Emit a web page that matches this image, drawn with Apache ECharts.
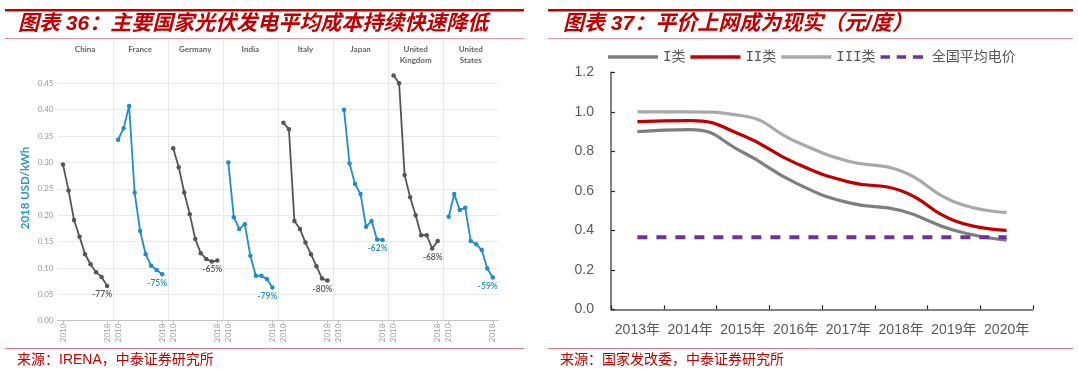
<!DOCTYPE html>
<html>
<head>
<meta charset="utf-8">
<script src="https://cdn.jsdelivr.net/npm/echarts@6/dist/echarts.min.js"></script>
<style>
html,body{margin:0;padding:0;background:#fff;}
#c{width:1078px;height:372px;}
</style>
</head>
<body>
<div id="c"></div>
<script>
// ---------- Left chart data (IRENA LCOE, 2018 USD/kWh) ----------
const countries = ['China', 'France', 'Germany', 'India', 'Italy', 'Japan', 'United\nKingdom', 'United\nStates'];
const years = [2010, 2011, 2012, 2013, 2014, 2015, 2016, 2017, 2018];
const chinaCost   = [0.296, 0.247, 0.191, 0.159, 0.126, 0.107, 0.092, 0.083, 0.066];
const franceCost  = [0.343, 0.365, 0.407, 0.243, 0.170, 0.126, 0.104, 0.096, 0.088];
const germanyCost = [0.327, 0.291, 0.243, 0.202, 0.155, 0.128, 0.117, 0.112, 0.114];
const indiaCost   = [0.300, 0.196, 0.174, 0.183, 0.123, 0.085, 0.085, 0.079, 0.063];
const italyCost   = [0.375, 0.363, 0.189, 0.174, 0.148, 0.126, 0.103, 0.080, 0.076];
const japanCost   = [null, 0.400, 0.298, 0.259, 0.240, 0.178, 0.189, 0.154, 0.153];
const ukCost      = [0.465, 0.450, 0.276, 0.234, 0.200, 0.162, 0.162, 0.137, 0.151];
const usCost      = [0.197, 0.240, 0.210, 0.214, 0.151, 0.145, 0.134, 0.099, 0.082];
const pctChange   = ['-77%', '-75%', '-65%', '-79%', '-80%', '-62%', '-68%', '-59%'];

// ---------- Right chart data (元/度) ----------
const rightYears = ['2013年', '2014年', '2015年', '2016年', '2017年', '2018年', '2019年', '2020年'];
const class1   = [0.90, 0.91, 0.795, 0.64, 0.54, 0.50, 0.40, 0.35];
const class2   = [0.95, 0.955, 0.88, 0.74, 0.645, 0.60, 0.45, 0.40];
const class3   = [1.00, 1.00, 0.98, 0.85, 0.75, 0.70, 0.545, 0.49];
const avgPrice = [0.3644, 0.3644, 0.3644, 0.3644, 0.3644, 0.3644, 0.3644, 0.3644];
const rightNames = ['I类', 'II类', 'III类', '全国平均电价'];

const costSeries = [chinaCost, franceCost, germanyCost, indiaCost, italyCost, japanCost, ukCost, usCost];

// ---------- layout / style ----------
const FL = 57.5, FW = 55.1, FT = 83.3, FH = 237.4;
const GRAY = '#555555', BLUE = '#1f8dc8';
const RED = '#C00000';
const CJK = '"Liberation Sans","Noto Sans CJK SC"';
const pctLabelDrop = [2, 2, 2, 2, 2, 2, 9, 2];

const grids = [], xAxes = [], yAxes = [], series = [];
costSeries.forEach((vals, i) => {
  const col = i % 2 === 0 ? GRAY : BLUE;
  grids.push({left: FL + i * FW, top: FT, width: FW, height: FH, containLabel: false, outerBoundsMode: 'none'});
  xAxes.push({
    gridIndex: i, type: 'value', min: 2009, max: 2019, interval: 1,
    axisLine: {show: true, lineStyle: {color: '#c4c4c4', width: 1}},
    axisTick: {show: true, customValues: [2010, 2018], length: 3, lineStyle: {color: '#c4c4c4'}},
    axisLabel: {show: true, customValues: [2010, 2018], rotate: 90, margin: 3, fontSize: 8,
      color: '#a0a0a0', fontFamily: 'Lato', formatter: v => String(v)},
    splitLine: {show: false}
  });
  yAxes.push({
    gridIndex: i, type: 'value', min: 0, max: 0.45, interval: 0.05,
    axisLine: {show: false}, axisTick: {show: false},
    axisLabel: {show: i === 0, fontSize: 8, color: '#9a9a9a', fontFamily: 'Lato', margin: 4,
      formatter: v => v.toFixed(2)},
    splitLine: {show: true, lineStyle: {color: '#e9e9e9', width: 1}}
  });
  const data = years.map((y, j) => {
    const item = {value: [y, vals[j]]};
    if (j === years.length - 1) {
      item.label = {show: true, position: 'bottom', distance: pctLabelDrop[i], offset: [-5, 0],
        formatter: pctChange[i], color: col, fontSize: 8.5, fontWeight: 600, fontFamily: 'Lato'};
    }
    return item;
  }).filter(d => d.value[1] !== null);
  series.push({
    name: countries[i].replace('\n', ' '), type: 'line', xAxisIndex: i, yAxisIndex: i,
    data: data, clip: false, symbol: 'circle', symbolSize: 4.5, showSymbol: true,
    lineStyle: {color: col, width: 1.8}, itemStyle: {color: col},
    label: {show: false}, emphasis: {disabled: true}, silent: true, animation: false
  });
});

// right chart grid
const RI = costSeries.length;
grids.push({left: 611, top: 72.3, width: 422, height: 237, containLabel: false, outerBoundsMode: 'none'});
xAxes.push({
  gridIndex: RI, type: 'category', data: rightYears, boundaryGap: true,
  axisLine: {show: true, lineStyle: {color: '#595959', width: 1.5}},
  axisTick: {show: true, inside: true, length: 4, alignWithLabel: false, lineStyle: {color: '#262626', width: 1.2}},
  axisLabel: {color: '#595959', fontSize: 14, fontFamily: CJK, margin: 14, interval: 0},
  splitLine: {show: false}
});
yAxes.push({
  gridIndex: RI, type: 'value', min: 0, max: 1.2, interval: 0.2,
  axisLine: {show: true, lineStyle: {color: '#595959', width: 1.5}},
  axisTick: {show: true, inside: true, length: 4, lineStyle: {color: '#262626', width: 1.2}},
  axisLabel: {color: '#595959', fontSize: 14, fontFamily: '"Liberation Sans"', margin: 17,
    formatter: v => v.toFixed(1)},
  splitLine: {show: false}
});
const rightCols = ['#7f7f7f', '#C00000', '#a9a9a9', '#7030a0'];
[class1, class2, class3].forEach((vals, k) => {
  series.push({
    name: rightNames[k], type: 'line', xAxisIndex: RI, yAxisIndex: RI, data: vals,
    smooth: 0.5, symbol: 'none', lineStyle: {color: rightCols[k], width: 3.2},
    itemStyle: {color: rightCols[k]}, silent: true, animation: false, z: 3 - k + 2
  });
});
series.push({
  name: rightNames[3], type: 'line', xAxisIndex: RI, yAxisIndex: RI, data: avgPrice,
  symbol: 'none', lineStyle: {color: rightCols[3], width: 4, type: [10, 9]},
  itemStyle: {color: rightCols[3]}, silent: true, animation: false, z: 6
});

// graphics
const graphic = [];
[[5, 524], [548, 1073]].forEach(([x1, x2]) => {
  graphic.push({type: 'rect', shape: {x: x1, y: 9, width: x2 - x1, height: 2.6}, style: {fill: RED}, silent: true});
  graphic.push({type: 'line', shape: {x1: x1, y1: 38.5, x2: x2, y2: 38.5}, style: {stroke: '#e39a9a', lineWidth: 1}, silent: true});
  graphic.push({type: 'line', shape: {x1: x1, y1: 348.5, x2: x2, y2: 348.5}, style: {stroke: '#d98080', lineWidth: 1}, silent: true});
});
graphic.push({type: 'text', x: 18, y: 24, silent: true, style: {
  text: '图表 36：主要国家光伏发电平均成本持续快速降低', fill: RED,
  font: 'italic bold 21px ' + CJK, verticalAlign: 'middle', align: 'left'}});
graphic.push({type: 'text', x: 563, y: 24, silent: true, style: {
  text: '图表 37：平价上网成为现实（元/度）', fill: RED,
  font: 'italic bold 21px ' + CJK, verticalAlign: 'middle', align: 'left'}});
graphic.push({type: 'text', x: 17, y: 360, silent: true, style: {
  text: '来源：IRENA，中泰证券研究所', fill: RED, font: '14px ' + CJK, verticalAlign: 'middle'}});
graphic.push({type: 'text', x: 560, y: 360, silent: true, style: {
  text: '来源：国家发改委，中泰证券研究所', fill: RED, font: '14px ' + CJK, verticalAlign: 'middle'}});
for (let i = 1; i < countries.length; i++) {
  const x = Math.round(FL + i * FW) + 0.5;
  graphic.push({type: 'line', shape: {x1: x, y1: 40, x2: x, y2: FT + FH}, style: {stroke: '#e9e9e9', lineWidth: 1}, silent: true});
}
countries.forEach((c, i) => {
  graphic.push({type: 'text', x: FL + i * FW + FW / 2, y: 44, silent: true, style: {
    text: c, fill: '#666666', font: 'bold 8px Lato', align: 'center', verticalAlign: 'top', lineHeight: 11}});
});
graphic.push({type: 'text', x: 25, y: 188, rotation: Math.PI / 2, silent: true, style: {
  text: '2018 USD/kWh', fill: '#2a95c9', font: 'bold 11.5px Lato', align: 'center', verticalAlign: 'middle'}});

const DASH_ICON = 'path://M0,0h11v4h-11z M19,0h11v4h-11z M38,0h12v4h-12z';
const chart = echarts.init(document.getElementById('c'), null, {renderer: 'canvas'});
chart.setOption({
  backgroundColor: '#ffffff',
  animation: false,
  grid: grids, xAxis: xAxes, yAxis: yAxes, series: series,
  legend: {
    show: true, left: 603, top: 45, orient: 'horizontal',
    itemWidth: 50, itemHeight: 3.4, itemGap: 5, selectedMode: false,
    data: [
      {name: rightNames[0], icon: 'rect', itemStyle: {color: rightCols[0]}},
      {name: rightNames[1], icon: 'rect', itemStyle: {color: rightCols[1]}},
      {name: rightNames[2], icon: 'rect', itemStyle: {color: rightCols[2]}},
      {name: rightNames[3], icon: DASH_ICON, itemStyle: {color: rightCols[3]}}
    ],
    textStyle: {color: '#595959', fontSize: 14, fontFamily: '"DejaVu Sans Mono","Noto Sans CJK SC"', padding: [0, 0, 0, 0]}
  },
  tooltip: {show: false},
  graphic: graphic
});
</script>
</body>
</html>
